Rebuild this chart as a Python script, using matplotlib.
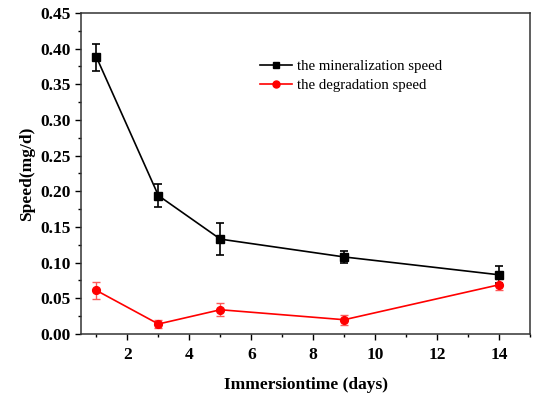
import numpy as np
import matplotlib.pyplot as plt
from matplotlib.ticker import MultipleLocator

# data
days = [1, 3, 5, 9, 14]
mineral = [0.388, 0.194, 0.133, 0.108, 0.083]
mineral_err = [0.019, 0.016, 0.022, 0.009, 0.012]
degrade = [0.061, 0.014, 0.034, 0.020, 0.069]
degrade_err = [0.012, 0.005, 0.009, 0.007, 0.008]

plt.rcParams['font.family'] = ['Liberation Serif', 'DejaVu Serif']

fig = plt.figure(figsize=(5.54, 3.97), dpi=100)
ax = fig.add_axes([0.1462, 0.1587, 0.8105, 0.8086])

ax.errorbar(days, mineral, yerr=mineral_err, color='black', marker='s', ms=5.2,
            lw=1.2, capsize=3, elinewidth=1.2, capthick=1.2,
            label='the mineralization speed', zorder=3)
ax.errorbar(days, degrade, yerr=degrade_err, color='red', marker='o', ms=5.6,
            lw=1.2, capsize=3, elinewidth=1.0, capthick=1.0, ecolor=(1, 0.35, 0.35),
            label='the degradation speed', zorder=3)

ax.set_xlim(0.5, 15)
ax.set_ylim(0, 0.45)
ax.xaxis.set_major_locator(MultipleLocator(2))
ax.xaxis.set_minor_locator(MultipleLocator(1))
ax.yaxis.set_major_locator(MultipleLocator(0.05))
ax.yaxis.set_minor_locator(MultipleLocator(0.025))
ax.yaxis.set_major_formatter(plt.FormatStrFormatter('%.2f'))

ax.tick_params(which='both', direction='out', top=False, right=False)
ax.tick_params(which='major', length=4.5, width=1, labelsize=12.5)
ax.tick_params(which='minor', length=2.5, width=1)
ax.tick_params(axis='x', which='major', pad=5)
ax.tick_params(axis='y', which='major', pad=3)
for lab in ax.get_xticklabels() + ax.get_yticklabels():
    lab.set_fontweight('bold')
for sp in ax.spines.values():
    sp.set_linewidth(1.1)
    sp.set_color('#333333')

ax.set_xlabel('Immersiontime (days)', fontsize=12.5, fontweight='bold', labelpad=10)
ax.set_ylabel('Speed(mg/d)', fontsize=12.5, fontweight='bold', labelpad=4)

handles, labels = ax.get_legend_handles_labels()
handles = [h[0] for h in handles]
ax.legend(handles, labels, loc='upper left', bbox_to_anchor=(0.368, 0.895),
          frameon=False, fontsize=10.7, handlelength=2.2, handletextpad=0.3,
          labelspacing=0.35, markerscale=0.9)

fig.savefig('out.png', dpi=100)
